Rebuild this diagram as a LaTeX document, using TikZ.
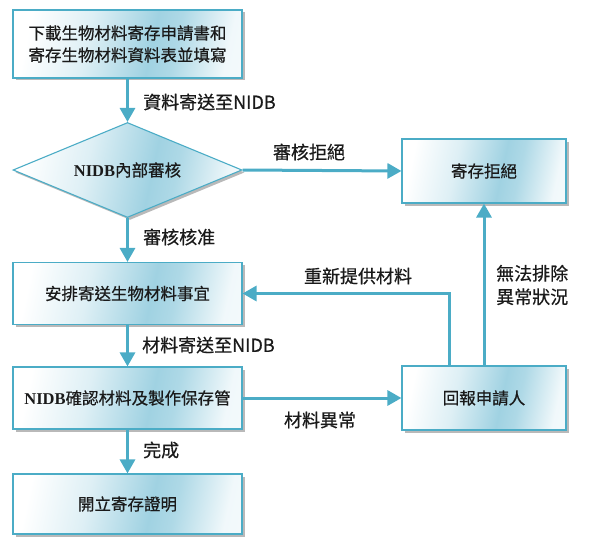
\documentclass[tikz,border=0pt]{standalone}
\usepackage{fontspec}
\newfontfamily\cjk{Noto Sans CJK TC}[RawFeature={embolden=0.6}]
\newfontfamily\serifb{Liberation Serif}
\usetikzlibrary{shapes.geometric,shadows,arrows.meta}
\definecolor{acc}{HTML}{4BACC6}
\definecolor{peak}{RGB}{160,210,226}
\definecolor{txt}{HTML}{1A1A1A}
\pgfdeclarehorizontalshading{boxshade}{100bp}{color(0bp)=(white); color(25bp)=(white); color(40bp)=(peak!35!white); color(56bp)=(peak); color(62bp)=(peak!85!white); color(75bp)=(peak!15!white); color(100bp)=(white)}
\tikzset{
  boxbase/.style={draw=acc, line width=1.1pt, shading=boxshade, shading angle=-12,
    drop shadow={shadow xshift=2.5pt, shadow yshift=-2.5pt, fill=black!50, opacity=0.55},
    inner sep=0pt, align=center, text=txt, font=\cjk\fontsize{16.5}{22}\selectfont},
  bigbox/.style={boxbase, rectangle, minimum width=229pt},
  sidebox/.style={boxbase, rectangle, minimum width=164pt, minimum height=64pt},
  decide/.style={boxbase, diamond, minimum width=229pt, minimum height=95pt, aspect=2.4},
  flow/.style={draw=acc, line width=3pt, -{Triangle[width=15pt,length=14pt]}},
  lab/.style={text=txt, font=\cjk\fontsize{18}{23.5}\selectfont, inner sep=0pt, align=left},
}
\begin{document}
\begin{tikzpicture}[x=1pt,y=-1pt]
\useasboundingbox (0,0) rectangle (589,551);
\node[bigbox, minimum height=68pt] (b1) at (127.5,44) {下載生物材料寄存申請書和\\寄存生物材料資料表並填寫};
\node[decide] (dia) at (127.5,170) {{\serifb\bfseries NIDB}內部審核};
\node[sidebox] (rej) at (484,171) {寄存拒絕};
\node[bigbox, minimum height=62pt] (b3) at (127.5,293.5) {安排寄送生物材料事宜};
\node[bigbox, minimum height=62pt] (b4) at (127.5,398) {{\serifb\bfseries NIDB}確認材料及製作保存管};
\node[sidebox] (rep) at (484,398) {回報申請人};
\node[bigbox, minimum height=60pt] (b6) at (127.5,504) {開立寄存證明};

\draw[flow] (b1.south) -- (dia.north);
\draw[flow] (dia.east) -- (rej.west);
\draw[flow] (dia.south) -- (b3.north);
\draw[flow] (b3.south) -- (b4.north);
\draw[flow] (b4.east) -- (rep.west);
\draw[flow] (b4.south) -- (b6.north);
\draw[flow] ([xshift=-35pt]rep.north) |- (b3.east);
\draw[flow] (rep.north) -- (rej.south);

\node[lab, anchor=west] (l1) at (143,102) {資料寄送至NIDB};
\node[lab] (l2) at (309,152) {審核拒絕};
\node[lab, anchor=west] (l3) at (143,237) {審核核准};
\node[lab] (l4) at (358,276) {重新提供材料};
\node[lab, anchor=west] (l5) at (496,285) {無法排除\\異常狀況};
\node[lab, anchor=west] (l6) at (142,345) {材料寄送至NIDB};
\node[lab] (l7) at (320,420) {材料異常};
\node[lab, anchor=west] (l8) at (143,450) {完成};
\end{tikzpicture}
\end{document}
